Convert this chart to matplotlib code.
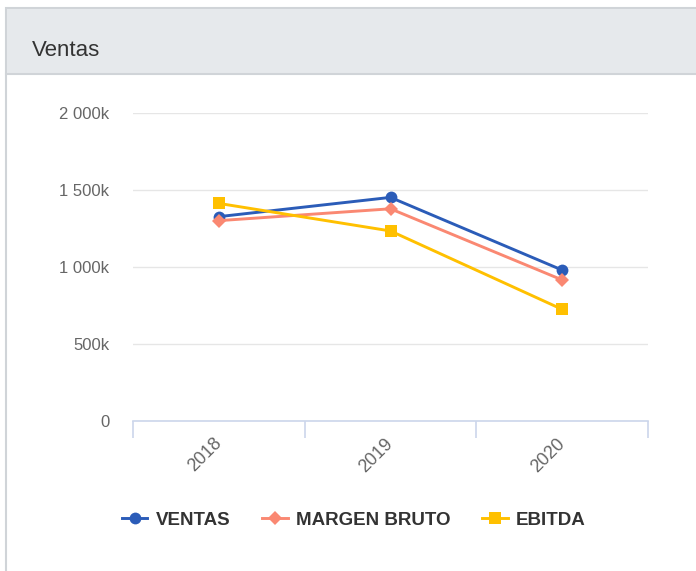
import matplotlib
matplotlib.use("Agg")
import matplotlib.pyplot as plt
import matplotlib.transforms as mtransforms
from matplotlib.patches import Rectangle
from matplotlib.lines import Line2D

plt.rcParams['font.family'] = ['Liberation Sans', 'DejaVu Sans']

years = ["2018", "2019", "2020"]
ventas = [1327, 1452, 980]
margen_bruto = [1301, 1378, 916]
ebitda = [1413, 1234, 725]
y_ticks = [0, 500, 1000, 1500, 2000]
y_tick_labels = ["0", "500k", "1 000k", "1 500k", "2 000k"]
series_names = ["VENTAS", "MARGEN BRUTO", "EBITDA"]
colors = ["#2b5cb8", "#fa8872", "#ffc000"]
markers = ["o", "D", "s"]
msizes = [8.5, 7, 9.2]

W, H = 696, 571
fig = plt.figure(figsize=(W / 100, H / 100), dpi=100)

def fx(px):
    return px / W

def fy(py):
    return 1 - py / H

# panel & header
fig.patches.append(Rectangle((fx(6), fy(H + 5)), fx(W + 10), fy(8) - fy(H + 5),
                             transform=fig.transFigure, facecolor="white",
                             edgecolor="#d0d4d8", linewidth=1.5, zorder=0))
fig.patches.append(Rectangle((fx(7), fy(74)), fx(W), fy(9) - fy(74),
                             transform=fig.transFigure, facecolor="#e6e9ec",
                             edgecolor="none", zorder=0.5))
fig.add_artist(Line2D([fx(6), 1], [fy(74), fy(74)], transform=fig.transFigure,
                      color="#d0d4d8", linewidth=1.5))
fig.text(fx(32), fy(50), "Ventas", fontsize=16, color="#333333", va="center", ha="left")

ax = fig.add_axes([fx(133), fy(421), fx(648 - 133), fy(113) - fy(421)])
ax.set_zorder(3)
ax.patch.set_alpha(0)
x = list(range(len(years)))
for vals, name, c, m, ms in zip([ventas, margen_bruto, ebitda], series_names, colors, markers, msizes):
    ax.plot(x, vals, color=c, marker=m, markersize=ms, linewidth=2.1, label=name,
            markeredgewidth=0, clip_on=False, zorder=3)

ax.set_xlim(-0.5, len(years) - 0.5)
ax.set_ylim(0, 2000)
ax.set_yticks(y_ticks)
ax.set_yticklabels(y_tick_labels)
ax.yaxis.grid(True, color="#e6e6e6", linewidth=1)
ax.set_axisbelow(True)
ax.tick_params(axis="y", length=0, pad=17, labelsize=12, labelcolor="#666666")
for s in ["top", "right", "left"]:
    ax.spines[s].set_visible(False)
ax.spines["bottom"].set_color("#ccd6eb")
ax.spines["bottom"].set_linewidth(1.2)

ax.set_xticks([i - 0.5 for i in range(len(years) + 1)])
ax.set_xticklabels([])
ax.tick_params(axis="x", length=12, width=1.2, color="#ccd6eb")
ax.set_xticks(x, minor=True)
ax.set_xticklabels(years, minor=True, rotation=45, ha="right", va="top",
                   rotation_mode="anchor", fontsize=13, color="#666666")
ax.tick_params(axis="x", which="minor", length=0, pad=10)
offset = mtransforms.ScaledTranslation(-6 / 100, 0, fig.dpi_scale_trans)
for lbl in ax.get_xticklabels(minor=True):
    lbl.set_transform(lbl.get_transform() + offset)

leg = fig.legend(loc="center", bbox_to_anchor=(fx(354), fy(520)), ncol=3, frameon=False,
                 handlelength=1.35, handletextpad=0.45, columnspacing=1.7,
                 prop={"weight": "bold", "size": 13.5})
leg.set_zorder(4)
for t in leg.get_texts():
    t.set_color("#333333")

fig.savefig("out.png", dpi=100)
